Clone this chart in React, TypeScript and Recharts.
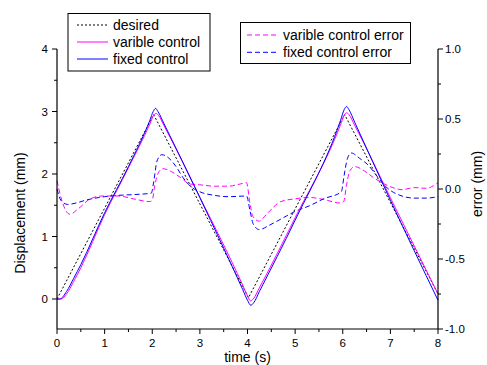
import { Legend, Line, LineChart, XAxis, YAxis } from "recharts";

const FONT = "'Liberation Sans', Arial, sans-serif";

// plot frame (px)
const PLOT_LEFT = 57;
const PLOT_RIGHT = 438;
const PLOT_TOP = 49;
const PLOT_BOTTOM = 329;

// tick values (majors are labelled, the rest are minor)
const TIME_TICKS = [0, 0.5, 1, 1.5, 2, 2.5, 3, 3.5, 4, 4.5, 5, 5.5, 6, 6.5, 7, 7.5, 8];
const DISP_TICKS = [0, 0.5, 1, 1.5, 2, 2.5, 3, 3.5, 4];
const ERR_TICKS = [-1, -0.75, -0.5, -0.25, 0, 0.25, 0.5, 0.75, 1];

// displacement (mm)
const DESIRED_T = [0, 2.03, 4.02, 6.04, 8];
const DESIRED_V = [0.0, 2.95, 0.02, 2.95, 0.08];

const VARIABLE_T = [0, 0.08, 0.2, 0.35, 0.5, 1.0, 1.5, 1.95, 2.03, 2.08, 2.13, 2.25, 3.0, 3.9, 4.0, 4.06, 4.12, 4.25, 5.0, 5.95, 6.03, 6.08, 6.13, 6.25, 7.0, 8];
const VARIABLE_V = [0.0, 0.0, 0.08, 0.28, 0.5, 1.35, 2.1, 2.8, 2.94, 2.97, 2.94, 2.77, 1.63, 0.22, 0.05, -0.03, 0.0, 0.18, 1.3, 2.78, 2.94, 2.98, 2.95, 2.78, 1.62, 0.08];

const FIXED_T = [0, 0.06, 0.2, 0.35, 0.5, 1.0, 1.5, 1.95, 2.02, 2.07, 2.12, 2.25, 3.0, 3.9, 4.0, 4.07, 4.13, 4.25, 5.0, 5.95, 6.03, 6.08, 6.13, 6.25, 7.0, 8];
const FIXED_V = [0.0, 0.0, 0.12, 0.33, 0.55, 1.38, 2.12, 2.86, 3.0, 3.05, 3.0, 2.8, 1.62, 0.15, -0.02, -0.1, -0.06, 0.12, 1.26, 2.85, 3.03, 3.08, 3.03, 2.83, 1.58, -0.02];

// error (mm)
const VAR_ERR_T = [0, 0.1, 0.27, 0.45, 0.7, 0.95, 1.3, 1.6, 1.95, 2.0, 2.05, 2.12, 2.22, 2.4, 2.6, 2.8, 3.0, 3.3, 3.6, 3.9, 3.98, 4.05, 4.12, 4.25, 4.4, 4.7, 5.0, 5.3, 5.6, 5.95, 6.02, 6.08, 6.15, 6.25, 6.45, 6.65, 6.85, 7.05, 7.25, 7.5, 7.75, 8];
const VAR_ERR_V = [0.06, -0.08, -0.18, -0.14, -0.07, -0.05, -0.05, -0.07, -0.09, -0.08, 0.02, 0.11, 0.145, 0.125, 0.08, 0.035, 0.03, 0.02, 0.02, 0.04, 0.045, -0.1, -0.2, -0.23, -0.18, -0.09, -0.07, -0.06, -0.075, -0.1, -0.09, 0.03, 0.13, 0.16, 0.13, 0.08, 0.04, 0.01, -0.005, 0.01, 0.005, 0.045];

const FIX_ERR_T = [0, 0.08, 0.22, 0.4, 0.6, 1.0, 1.3, 1.6, 1.98, 2.03, 2.1, 2.2, 2.35, 2.5, 2.65, 2.8, 3.0, 3.3, 3.6, 3.98, 4.05, 4.12, 4.25, 4.45, 4.7, 5.0, 5.3, 5.6, 5.97, 6.03, 6.1, 6.18, 6.35, 6.55, 6.7, 6.85, 7.0, 7.2, 7.5, 7.75, 8];
const FIX_ERR_V = [0.0, -0.08, -0.11, -0.1, -0.08, -0.055, -0.045, -0.04, -0.03, 0.05, 0.2, 0.245, 0.22, 0.16, 0.08, 0.02, -0.02, -0.045, -0.055, -0.05, -0.15, -0.25, -0.29, -0.26, -0.215, -0.16, -0.12, -0.07, -0.02, 0.1, 0.22, 0.257, 0.22, 0.165, 0.1, 0.035, -0.01, -0.045, -0.065, -0.065, -0.055];

const zip = (ts: number[], vs: number[]) => ts.map((t, i) => ({ t, v: vs[i] }));

const LEGEND_LEFT = [
  { name: "desired", color: "#000000", dash: "2 2" },
  { name: "varible control", color: "#ff00ff", dash: undefined },
  { name: "fixed control", color: "#0000ff", dash: undefined },
];
const LEGEND_RIGHT = [
  { name: "varible control error", color: "#ff00ff", dash: "5 3" },
  { name: "fixed control error", color: "#0000ff", dash: "5 3" },
];

const tickText = { fontFamily: FONT, fontSize: 11.5, fill: "#000" };

function LeftTick({ y, payload }: any) {
  const v = payload.value;
  const major = Number.isInteger(v);
  return (
    <g>
      <line x1={PLOT_LEFT - (major ? 5 : 3)} x2={PLOT_LEFT} y1={y} y2={y} stroke="#000" />
      {major && (
        <text x={PLOT_LEFT - 9} y={y + 4} textAnchor="end" {...tickText}>
          {v}
        </text>
      )}
    </g>
  );
}

function RightTick({ y, payload }: any) {
  const v = payload.value;
  const major = Number.isInteger(v * 2);
  return (
    <g>
      <line x1={PLOT_RIGHT} x2={PLOT_RIGHT + (major ? 5 : 3)} y1={y} y2={y} stroke="#000" />
      {major && (
        <text x={PLOT_RIGHT + 7} y={y + 4} textAnchor="start" {...tickText}>
          {v.toFixed(1)}
        </text>
      )}
    </g>
  );
}

function BottomTick({ x, payload }: any) {
  const v = payload.value;
  const major = Number.isInteger(v);
  return (
    <g>
      <line x1={x} x2={x} y1={PLOT_BOTTOM} y2={PLOT_BOTTOM + (major ? 5 : 3)} stroke="#000" />
      {major && (
        <text x={x} y={PLOT_BOTTOM + 18} textAnchor="middle" {...tickText}>
          {v}
        </text>
      )}
    </g>
  );
}

function TopTick({ x, payload }: any) {
  const major = Number.isInteger(payload.value);
  return <line x1={x} x2={x} y1={PLOT_TOP} y2={PLOT_TOP + (major ? 5 : 3)} stroke="#000" />;
}

function LegendBoxes() {
  const txt = { fontFamily: FONT, fontSize: 14, fill: "#000" };
  return (
    <svg width={487} height={365} style={{ position: "absolute", left: 0, top: 0 }}>
      <rect x={68} y={13.5} width={142} height={57.5} fill="#fff" stroke="#000" />
      {LEGEND_LEFT.map((e, i) => (
        <g key={e.name}>
          <line x1={77} x2={108} y1={25 + i * 17} y2={25 + i * 17} stroke={e.color} strokeDasharray={e.dash} />
          <text x={113} y={30 + i * 17} {...txt}>
            {e.name}
          </text>
        </g>
      ))}
      <rect x={240.5} y={22.5} width={170} height={41} fill="#fff" stroke="#000" />
      {LEGEND_RIGHT.map((e, i) => (
        <g key={e.name}>
          <line x1={247} x2={278} y1={35 + i * 17.3} y2={35 + i * 17.3} stroke={e.color} strokeDasharray={e.dash} />
          <text x={283} y={40 + i * 17.3} {...txt}>
            {e.name}
          </text>
        </g>
      ))}
    </svg>
  );
}

export default function App() {
  const axisLine = { stroke: "#000", strokeWidth: 1.2 };
  return (
    <div style={{ position: "absolute", left: 0, top: 0, width: 487, height: 365, background: "#fff" }}>
      <LineChart width={487} height={365} margin={{ top: PLOT_TOP, right: 0, bottom: 0, left: 0 }}>
        <XAxis
          xAxisId="bottom"
          dataKey="t"
          type="number"
          domain={[0, 8]}
          ticks={TIME_TICKS}
          interval={0}
          height={36}
          tickLine={false}
          axisLine={axisLine}
          tick={BottomTick}
        />
        <XAxis
          xAxisId="top"
          orientation="top"
          dataKey="t"
          type="number"
          domain={[0, 8]}
          ticks={TIME_TICKS}
          interval={0}
          height={0}
          tickLine={false}
          axisLine={axisLine}
          tick={TopTick}
        />
        <YAxis
          yAxisId="left"
          type="number"
          domain={[-0.48, 4]}
          ticks={DISP_TICKS}
          interval={0}
          width={57}
          tickLine={false}
          axisLine={axisLine}
          tick={LeftTick}
        />
        <YAxis
          yAxisId="right"
          orientation="right"
          type="number"
          domain={[-1, 1]}
          ticks={ERR_TICKS}
          interval={0}
          width={49}
          tickLine={false}
          axisLine={axisLine}
          tick={RightTick}
        />
        <Line data={zip(DESIRED_T, DESIRED_V)} dataKey="v" xAxisId="bottom" yAxisId="left" type="linear" stroke="#000" strokeWidth={1} strokeDasharray="2 2" dot={false} activeDot={false} isAnimationActive={false} />
        <Line data={zip(VAR_ERR_T, VAR_ERR_V)} dataKey="v" xAxisId="bottom" yAxisId="right" type="monotone" stroke="#ff00ff" strokeWidth={1} strokeDasharray="5 3" dot={false} activeDot={false} isAnimationActive={false} />
        <Line data={zip(FIX_ERR_T, FIX_ERR_V)} dataKey="v" xAxisId="bottom" yAxisId="right" type="monotone" stroke="#0000ff" strokeWidth={1} strokeDasharray="5 3" dot={false} activeDot={false} isAnimationActive={false} />
        <Line data={zip(VARIABLE_T, VARIABLE_V)} dataKey="v" xAxisId="bottom" yAxisId="left" type="monotone" stroke="#ff00ff" strokeWidth={1} dot={false} activeDot={false} isAnimationActive={false} />
        <Line data={zip(FIXED_T, FIXED_V)} dataKey="v" xAxisId="bottom" yAxisId="left" type="monotone" stroke="#0000ff" strokeWidth={1} dot={false} activeDot={false} isAnimationActive={false} />
        <Legend
          layout="vertical"
          align="center"
          verticalAlign="middle"
          wrapperStyle={{ position: "absolute", left: 0, top: 0, width: 487, height: 365, pointerEvents: "none" }}
          content={() => <LegendBoxes />}
        />
      </LineChart>
      <svg width={487} height={365} style={{ position: "absolute", left: 0, top: 0, pointerEvents: "none" }}>
        <text transform="translate(25,213) rotate(-90)" textAnchor="middle" fontFamily={FONT} fontSize={14}>
          Displacement (mm)
        </text>
        <text transform="translate(482,184) rotate(-90)" textAnchor="middle" fontFamily={FONT} fontSize={14}>
          error (mm)
        </text>
        <text x={247.5} y={362} textAnchor="middle" fontFamily={FONT} fontSize={14}>
          time (s)
        </text>
      </svg>
    </div>
  );
}
